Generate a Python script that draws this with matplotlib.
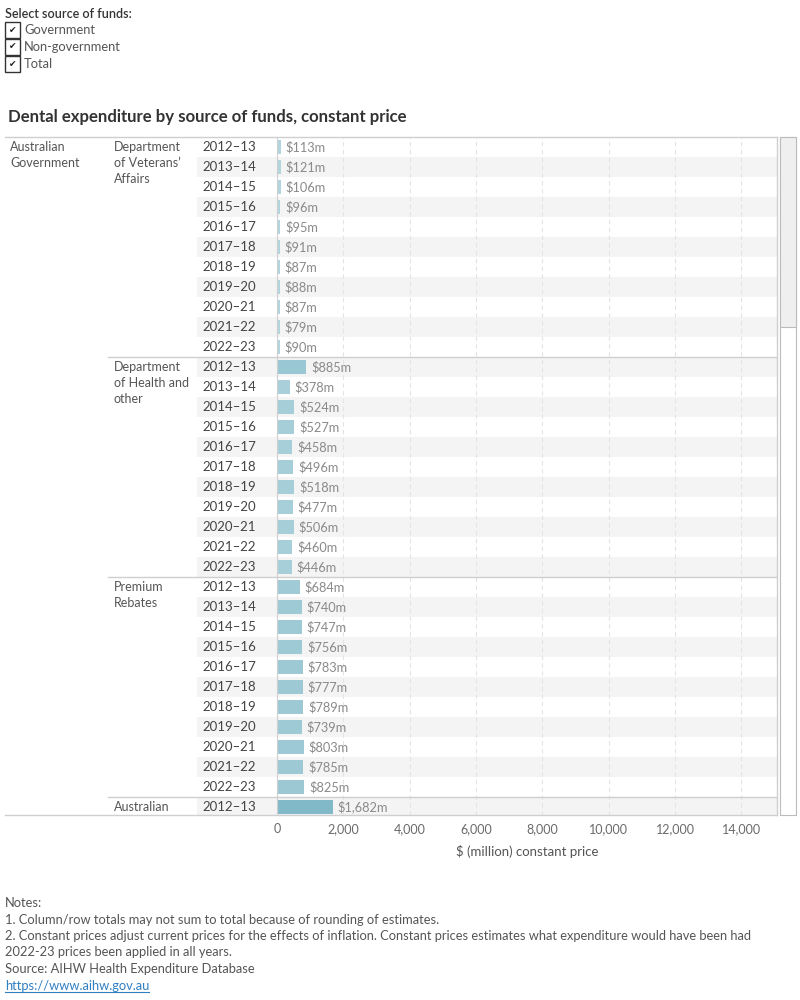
import numpy as np
import matplotlib.pyplot as plt
import matplotlib.colors as mcolors
from matplotlib.patches import Rectangle
from matplotlib.lines import Line2D

plt.rcParams['font.family'] = ['Lato', 'DejaVu Sans']

# data (constant price, $ million)
years = ['2012–13', '2013–14', '2014–15', '2015–16', '2016–17', '2017–18',
         '2018–19', '2019–20', '2020–21', '2021–22', '2022–23']
dva = [113, 121, 106, 96, 95, 91, 87, 88, 87, 79, 90]
health = [885, 378, 524, 527, 458, 496, 518, 477, 506, 460, 446]
premium = [684, 740, 747, 756, 783, 777, 789, 739, 803, 785, 825]
australian = [1682]  # only first row visible in the scrolled view

groups = ['Department\nof Veterans’\nAffairs', 'Department\nof Health and\nother',
          'Premium\nRebates', 'Australian']
group_vals = [dva, health, premium, australian]
xticks = [0, 2000, 4000, 6000, 8000, 10000, 12000, 14000]

W, H = 800, 1000
fig = plt.figure(figsize=(8, 10), dpi=100)

def fx(x):
    return x / W

def fy(y):
    return 1 - y / H

# geometry in pixels
top, bot = 137, 815
x0, x1 = 277, 777
row_h = 20
ylo = -0.5 + (bot - top) / row_h
px_per_unit = 0.03317
xmax = (x1 - x0) / px_per_unit

grey_txt = '#555555'
line_c = '#cfcfcf'
band_c = '#f4f4f4'
cmap = mcolors.LinearSegmentedColormap.from_list('b', ['#b4d7df', '#82b9c9'])

# filter header
fig.text(fx(5), fy(14), 'Select source of funds:', fontsize=9, color='#333333',
         va='center', fontweight='semibold')
for i, lab in enumerate(['Government', 'Non-government', 'Total']):
    yc = 30 + 17 * i
    fig.add_artist(Rectangle((fx(5), fy(yc + 7.5)), 15 / W, 15 / H,
                             transform=fig.transFigure, fill=False,
                             edgecolor='#333333', lw=1))
    fig.text(fx(12.5), fy(yc), '✔', fontsize=6.5, color='#222222', ha='center',
             va='center', family=['DejaVu Sans'])
    fig.text(fx(24), fy(yc), lab, fontsize=9.3, color=grey_txt, va='center')

fig.text(fx(8), fy(117), 'Dental expenditure by source of funds, constant price',
         fontsize=12.1, fontweight='bold', color='#333333', va='center')

# row header area
lab = fig.add_axes([0, fy(bot), fx(x0), (bot - top) / H])
lab.set_xlim(0, x0)
lab.set_ylim(ylo, -0.5)
lab.axis('off')

ax = fig.add_axes([fx(x0), fy(bot), fx(x1) - fx(x0), (bot - top) / H])
ax.set_xlim(0, xmax)
ax.set_ylim(ylo, -0.5)

row = 0
ypos, vals = [], []
for g, (name, v) in enumerate(zip(groups, group_vals)):
    for k, ln in enumerate(name.split('\n')):
        lab.text(114, row + k * 16 / row_h, ln, fontsize=9, color=grey_txt, va='center')
    for k, val in enumerate(v):
        r = row + k
        if r % 2 == 1:
            ax.axhspan(r - 0.5, r + 0.5, color=band_c, lw=0, zorder=0)
            lab.axhspan(r - 0.5, r + 0.5, xmin=197 / x0, xmax=1, color=band_c, lw=0, zorder=0)
        lab.text(202, r, years[k], fontsize=9.5, color='#444444', va='center')
        ypos.append(r)
        vals.append(val)
    if g > 0:
        lab.plot([108, x0], [row - 0.5, row - 0.5], color=line_c, lw=1, clip_on=False)
        ax.axhline(row - 0.5, color=line_c, lw=1)
    row += len(v)

for k, ln in enumerate(['Australian', 'Government']):
    lab.text(10, k * 16 / row_h, ln, fontsize=9, color=grey_txt, va='center')

cols = [cmap(min(v, 1700) / 1700) for v in vals]
ax.barh(ypos, vals, height=0.72, color=cols, zorder=2)
for yv, v in zip(ypos, vals):
    ax.annotate(f'${v:,}m', (v, yv), xytext=(3.5, 0), textcoords='offset points',
                va='center', fontsize=9.2, color='#8a8a8a', zorder=3)

for t in xticks[1:]:
    ax.axvline(t, color='#e4e4e4', lw=0.8, ls=(0, (4, 3)), zorder=1)

ax.set_xticks(xticks)
ax.set_xticklabels([f'{t:,}' for t in xticks], color='#6a6a6a', fontsize=9)
ax.tick_params(axis='x', length=0, pad=6)
ax.set_yticks([])
for s in ['top', 'bottom', 'right']:
    ax.spines[s].set_visible(False)
ax.spines['left'].set_color(line_c)
ax.set_xlabel('$ (million) constant price', fontsize=9.5, color='#555555', labelpad=7)

# frame lines
fig.add_artist(Line2D([fx(5), fx(x1)], [fy(top), fy(top)], color=line_c, lw=1))
fig.add_artist(Line2D([fx(5), fx(x1)], [fy(bot), fy(bot)], color=line_c, lw=1))
fig.add_artist(Line2D([fx(x1), fx(x1)], [fy(top), fy(bot)], color=line_c, lw=1))

# scrollbar
fig.add_artist(Rectangle((fx(779.5), fy(bot)), 16 / W, (bot - top) / H,
                         transform=fig.transFigure, fill=False, edgecolor='#bbbbbb', lw=0.8))
fig.add_artist(Rectangle((fx(779.5), fy(327)), 16 / W, (327 - top) / H,
                         transform=fig.transFigure, facecolor='#efefef',
                         edgecolor='#bbbbbb', lw=0.8))

# notes
notes = ['Notes:',
         '1. Column/row totals may not sum to total because of rounding of estimates.',
         '2. Constant prices adjust current prices for the effects of inflation. Constant prices estimates what expenditure would have been had',
         '2022-23 prices been applied in all years.',
         'Source: AIHW Health Expenditure Database']
for i, n in enumerate(notes):
    fig.text(fx(5), fy(903 + 16.5 * i), n, fontsize=9.3, color=grey_txt, va='center')
link = fig.text(fx(5), fy(985.5), 'https://www.aihw.gov.au', fontsize=9.3,
                color='#2f7fc1', va='center')

# underline the link to the width of its text
fig.canvas.draw()
bb = link.get_window_extent().transformed(fig.transFigure.inverted())
fig.add_artist(Line2D([bb.x0, bb.x1], [fy(992), fy(992)], color='#2f7fc1', lw=0.8))

fig.savefig('out.png', dpi=100)
